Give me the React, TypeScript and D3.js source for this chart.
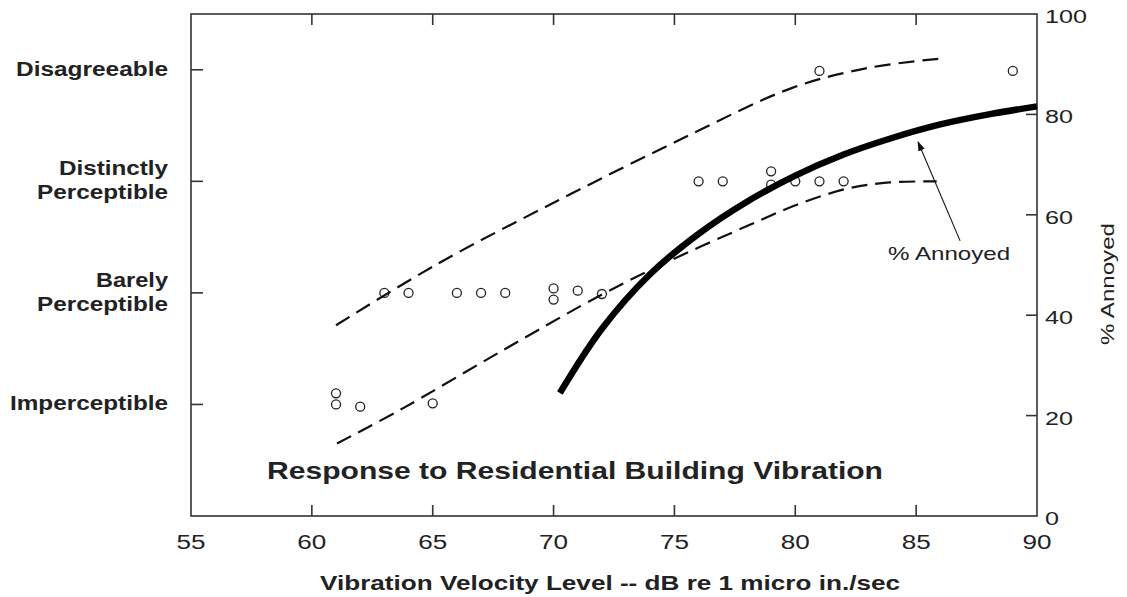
import React from 'react';
import * as d3 from 'd3';

type Pt = { x: number; y: number };

const W = 1127;
const H = 597;
const FONT = "'Liberation Sans', Arial, Helvetica, sans-serif";
const INK = '#222';

// rating levels on the left axis (1..4)
const ratingLabels = [
    { level: 4, lines: ['Disagreeable'] },
    { level: 3, lines: ['Distinctly', 'Perceptible'] },
    { level: 2, lines: ['Barely', 'Perceptible'] },
    { level: 1, lines: ['Imperceptible'] },
];
const xTicks = [55, 60, 65, 70, 75, 80, 85, 90];
const pctTicks = [0, 20, 40, 60, 80, 100];

// survey responses: x = dB, y = rating level
const responses: Pt[] = [
    { x: 61, y: 1.1 }, { x: 61, y: 1.0 }, { x: 62, y: 0.98 }, { x: 65, y: 1.01 },
    { x: 63, y: 2.0 }, { x: 64, y: 2.0 }, { x: 66, y: 2.0 }, { x: 67, y: 2.0 },
    { x: 68, y: 2.0 }, { x: 70, y: 2.04 }, { x: 70, y: 1.94 }, { x: 71, y: 2.02 },
    { x: 72, y: 1.99 },
    { x: 76, y: 3.0 }, { x: 77, y: 3.0 }, { x: 79, y: 3.09 }, { x: 79, y: 2.97 },
    { x: 80, y: 3.0 }, { x: 81, y: 3.0 }, { x: 82, y: 3.0 },
    { x: 81, y: 3.99 }, { x: 89, y: 3.99 },
];

// upper / lower dashed bounds (rating level)
const upperBound: Pt[] = [
    { x: 61.0, y: 1.71 }, { x: 65.2, y: 2.26 }, { x: 70.2, y: 2.83 },
    { x: 75.2, y: 3.37 }, { x: 79.9, y: 3.84 }, { x: 83.1, y: 4.02 }, { x: 86.0, y: 4.1 },
];
const lowerBound: Pt[] = [
    { x: 61.04, y: 0.65 }, { x: 63.64, y: 0.95 }, { x: 67.78, y: 1.47 },
    { x: 72.04, y: 1.99 }, { x: 74.93, y: 2.3 }, { x: 78.12, y: 2.61 },
    { x: 80.19, y: 2.8 }, { x: 82.25, y: 2.94 }, { x: 83.9, y: 2.99 }, { x: 85.85, y: 3.0 },
];

// % annoyed curve (right axis)
const annoyed: Pt[] = [
    { x: 70.26, y: 24.5 }, { x: 72, y: 37.3 }, { x: 74, y: 48.2 }, { x: 76, y: 56.2 },
    { x: 78, y: 62.6 }, { x: 80, y: 67.8 }, { x: 82, y: 72.0 }, { x: 84, y: 75.3 },
    { x: 86, y: 78.0 }, { x: 88, y: 80.0 }, { x: 90, y: 81.6 },
];

// annotation arrow (dB, %)
const arrowTip: Pt = { x: 85.08, y: 74.5 };
const arrowTail: Pt = { x: 86.82, y: 54.8 };
const annoLabel: Pt = { x: 83.84, y: 51.0 };

const App = () => {
    const left = 191, right = 1037, top = 14, bottom = 516;
    const x = d3.scaleLinear([55, 90], [left, right]);
    const yPct = d3.scaleLinear([0, 100], [bottom, top]);
    const yRate = d3.scaleLinear([0, 4.5], [bottom, top]);

    const smooth = d3.curveCatmullRom.alpha(0.5);
    const rateLine = d3.line<Pt>().x(d => x(d.x)).y(d => yRate(d.y)).curve(smooth);
    const pctLine = d3.line<Pt>().x(d => x(d.x)).y(d => yPct(d.y)).curve(smooth);

    // text widths (the source is stretched horizontally)
    const labelLen: Record<string, number> = {
        Disagreeable: 152, Distinctly: 109, Perceptible: 131, Barely: 72, Imperceptible: 158,
    };
    const labelEnd = 168;

    return (
        <svg width={W} height={H} style={{ position: 'absolute', left: 0, top: 0, background: '#fff' }}>
            <defs>
                <marker id='ah' viewBox='0 0 10 10' refX='9' refY='5' markerWidth='9' markerHeight='9' orient='auto'>
                    <path d='M0,1.5 L10,5 L0,8.5 z' fill='#111' />
                </marker>
            </defs>

            {/* frame */}
            <rect x={left} y={top} width={right - left} height={bottom - top} fill='none' stroke='#333' strokeWidth={1.6} />

            {/* x ticks top/bottom + labels */}
            {xTicks.map(t => (
                <g key={t}>
                    {t > 55 && t < 90 && (
                        <>
                            <line x1={x(t)} x2={x(t)} y1={top} y2={top + 11} stroke='#333' strokeWidth={1.6} />
                            <line x1={x(t)} x2={x(t)} y1={bottom} y2={bottom - 11} stroke='#333' strokeWidth={1.6} />
                        </>
                    )}
                    <text x={x(t) - 14.5} y={549} fontFamily={FONT} fontSize={20} fill={INK}
                        textLength={29} lengthAdjust='spacingAndGlyphs'>{t}</text>
                </g>
            ))}

            {/* left rating ticks */}
            {ratingLabels.map(r => {
                const ty = yRate(r.level);
                const n = r.lines.length;
                return (
                    <g key={r.level}>
                        <line x1={left} x2={left + 12} y1={ty} y2={ty} stroke='#333' strokeWidth={1.6} />
                        {r.lines.map((s, i) => {
                            const by = n === 1 ? ty + 6 : ty + (i === 0 ? -6 : 18);
                            const len = labelLen[s];
                            return (
                                <text key={i} x={labelEnd - len} y={by} fontFamily={FONT} fontSize={20}
                                    fontWeight='bold' fill={INK} textLength={len} lengthAdjust='spacingAndGlyphs'>{s}</text>
                            );
                        })}
                    </g>
                );
            })}

            {/* right % ticks */}
            {pctTicks.map(t => {
                const s = String(t);
                const len = s.length * 14;
                return (
                    <g key={t}>
                        {t > 0 && t < 100 && (
                            <line x1={right} x2={right - 11} y1={yPct(t)} y2={yPct(t)} stroke='#333' strokeWidth={1.6} />
                        )}
                        <text x={1045} y={yPct(t) + 9} fontFamily={FONT} fontSize={18} fill={INK}
                            textLength={len} lengthAdjust='spacingAndGlyphs'>{s}</text>
                    </g>
                );
            })}

            {/* responses */}
            {responses.map((d, i) => (
                <circle key={i} cx={x(d.x)} cy={yRate(d.y)} r={4.5} fill='none' stroke='#222' strokeWidth={1.3} />
            ))}

            {/* bounds */}
            <path d={rateLine(upperBound) ?? ''} fill='none' stroke='#111' strokeWidth={2.2} strokeDasharray='16,8' />
            <path d={rateLine(lowerBound) ?? ''} fill='none' stroke='#111' strokeWidth={2.2} strokeDasharray='16,8' />

            {/* % annoyed */}
            <path d={pctLine(annoyed) ?? ''} fill='none' stroke='#000' strokeWidth={6.5} />

            {/* annotation */}
            <line x1={x(arrowTail.x)} y1={yPct(arrowTail.y)} x2={x(arrowTip.x)} y2={yPct(arrowTip.y)}
                stroke='#111' strokeWidth={1.1} markerEnd='url(#ah)' />
            <text x={x(annoLabel.x)} y={yPct(annoLabel.y)} fontFamily={FONT} fontSize={19} fill={INK}
                textLength={122} lengthAdjust='spacingAndGlyphs'>% Annoyed</text>

            {/* chart title inside plot */}
            <text x={267} y={479} fontFamily={FONT} fontSize={24} fontWeight='bold' fill={INK}
                textLength={616} lengthAdjust='spacingAndGlyphs'>Response to Residential Building Vibration</text>

            {/* axis titles */}
            <text x={320} y={590} fontFamily={FONT} fontSize={21} fontWeight='bold' fill={INK}
                textLength={580} lengthAdjust='spacingAndGlyphs'>Vibration Velocity Level -- dB re 1 micro in./sec</text>
            <text transform='translate(1114,345) rotate(-90)' fontFamily={FONT} fontSize={19} fill={INK}
                textLength={122} lengthAdjust='spacingAndGlyphs'>% Annoyed</text>
        </svg>
    );
};

export default App;
